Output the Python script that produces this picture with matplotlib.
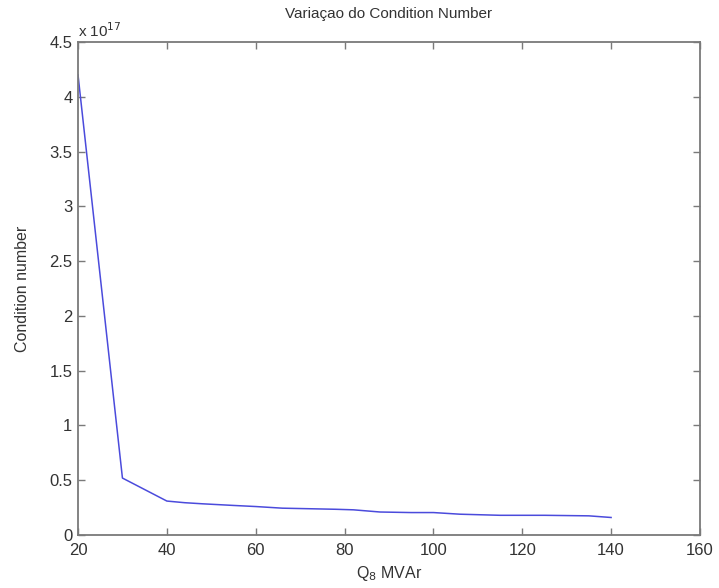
import matplotlib
matplotlib.use('Agg')
import matplotlib.pyplot as plt

# Q8 (MVAr) vs condition number (x 1e17)
q8 = [20, 30, 40, 44, 48, 55, 60, 66, 72, 78, 82, 88, 95, 100, 106, 115, 125, 135, 140]
cond = [4.2, 0.52, 0.31, 0.295, 0.285, 0.27, 0.26, 0.245, 0.24, 0.235, 0.23, 0.21, 0.205,
        0.205, 0.19, 0.18, 0.18, 0.175, 0.16]

xticks = [20, 40, 60, 80, 100, 120, 140, 160]
yticks = [0, 0.5, 1, 1.5, 2, 2.5, 3, 3.5, 4, 4.5]
yticklabels = ['0', '0.5', '1', '1.5', '2', '2.5', '3', '3.5', '4', '4.5']

plt.rcParams['font.family'] = ['Liberation Sans', 'DejaVu Sans']
txt = '#333333'
spine = '#7a7a7a'

fig = plt.figure(figsize=(7.19, 5.88), dpi=100)
ax = fig.add_axes([0.1085, 0.0901, 0.8650, 0.8385])

ax.plot(q8, cond, color='#4b4bdc', linewidth=1.1)

ax.set_xlim(20, 160)
ax.set_ylim(0, 4.5)
ax.set_xticks(xticks)
ax.set_yticks(yticks)
ax.set_yticklabels(yticklabels)

ax.tick_params(direction='in', top=True, right=True, length=5, width=1,
               color=spine, labelsize=12, labelcolor=txt)
ax.tick_params(axis='x', pad=6)
ax.tick_params(axis='y', pad=4)
for s in ax.spines.values():
    s.set_color(spine)
    s.set_linewidth(1.3)

ax.text(0.0, 1.005, r'x 10$^{17}$', transform=ax.transAxes, fontsize=11,
        color=txt, ha='left', va='bottom')

ax.set_title('Variaçao do Condition Number', fontsize=11, color=txt, pad=17)
ax.set_xlabel(r'Q$_8$ MVAr', fontsize=11.5, color=txt, labelpad=4)
ax.set_ylabel('Condition number', fontsize=11.5, color=txt, labelpad=14)

fig.savefig('out.png', dpi=100, facecolor='white')
